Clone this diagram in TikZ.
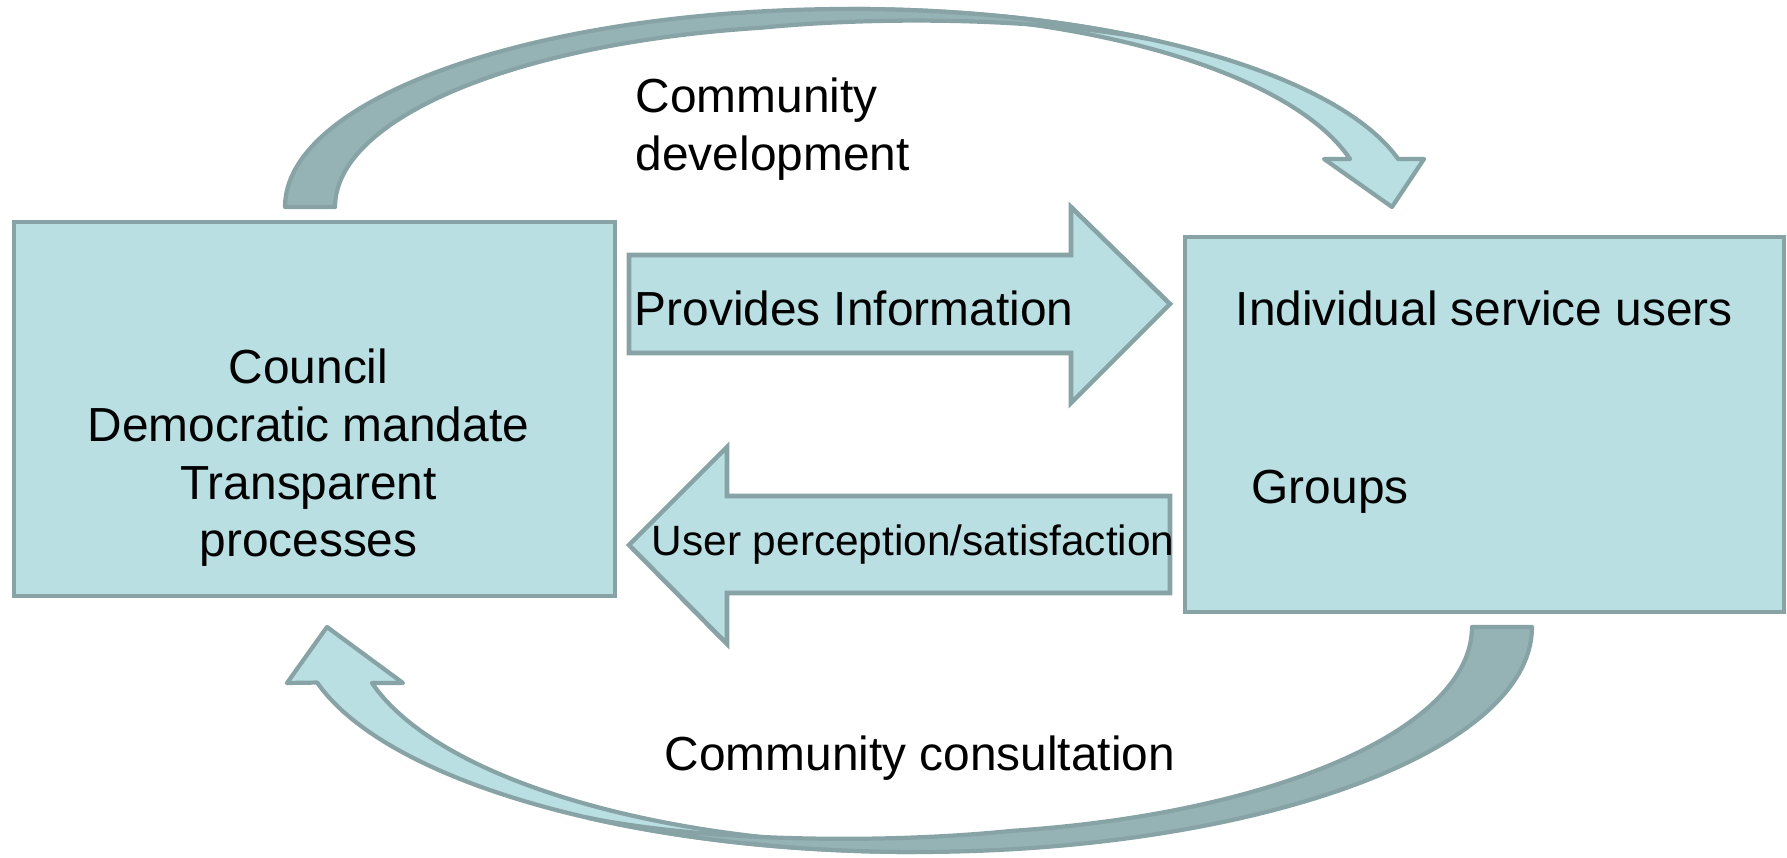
\documentclass[tikz,border=0pt]{standalone}
\usepackage{fontspec}
\setmainfont{Liberation Sans}
\usetikzlibrary{positioning}

\definecolor{panelfill}{HTML}{B9DFE2}
\definecolor{panelline}{HTML}{87A3A5}
\definecolor{backfill}{HTML}{95B3B5}

\tikzset{
  panel/.style={draw=panelline,fill=panelfill,line width=1.3pt},
  backside/.style={draw=panelline,fill=backfill,line width=1.2pt,line join=round},
  frontside/.style={draw=panelline,fill=panelfill,line width=1.2pt,line join=round},
  txt/.style={inner sep=0pt,font=\fontsize{13.6}{16.4}\selectfont},
  smalltxt/.style={inner sep=0pt,font=\fontsize{12.05}{14.5}\selectfont},
}

\begin{document}
\begin{tikzpicture}[x=0.01cm,y=0.01cm]
%  \draw[help lines,step=100] (0,0) grid (1787,858);
  \useasboundingbox (0,0) rectangle (1787,858);

  % the two boxes
  \node(council) [panel,minimum width=6.01cm,minimum height=3.74cm] at (314.5,449) {};
  \node(users) [panel,minimum width=5.99cm,minimum height=3.75cm] at (1484.5,433.5) {};

  % block arrows between them
  \path[panel] (629,603) -- (1071,603) -- (1071,651) -- (1170,554)
    -- (1071,455) -- (1071,505) -- (629,505) -- cycle;
  \path[panel] (1170,362) -- (727,362) -- (727,411) -- (629,313)
    -- (727,214) -- (727,265) -- (1170,265) -- cycle;

  % curved arrow on top
  \path[frontside] (850,849) arc[start angle=90,end angle=14,x radius=565,y radius=198]
    -- (1424,699) -- (1392,651) -- (1324,699) -- (1350,699)
    arc[start angle=14.3,end angle=95,x radius=516,y radius=195] -- cycle;
  \path[backside] (285,651) arc[start angle=180,end angle=58,x radius=565,y radius=198]
    .. controls (1040,840) and (880,842) .. (760.6,830.2)
    arc[start angle=100,end angle=180,x radius=515,y radius=182] -- cycle;

  % curved arrow below
  \path[frontside] (915,6) arc[start angle=270,end angle=194.3,x radius=617,y radius=225]
    -- (287,175) -- (327,231) -- (403,175) -- (372,175)
    arc[start angle=194.8,end angle=275,x radius=561.8,y radius=218] -- cycle;
  \path[backside] (1532,231) arc[start angle=0,end angle=-122,x radius=617,y radius=225]
    .. controls (707.5,16.3) and (882.2,14) .. (1011.7,27.1)
    arc[start angle=-80,end angle=0,x radius=557,y radius=207] -- cycle;

  % texts
  \node(mandate) [txt,align=center] at (308.5,400) 
    {Council\\Democratic mandate\\Transparent\\processes};
  \node(info) [txt,anchor=west] at (634,550) {Provides Information};
  \node(perception) [smalltxt,anchor=west] at (651,313) {User perception/satisfaction};
  \node(individual) [txt,anchor=west] at (1235,550) {Individual service users};
  \node(groups) [txt,anchor=west] at (1251,366) {Groups};
  \node(development) [txt,align=left,anchor=west] at (635,729) {Community\\development};
  \node(consultation) [txt,anchor=west] at (664,100) {Community consultation};
\end{tikzpicture}
\end{document}
